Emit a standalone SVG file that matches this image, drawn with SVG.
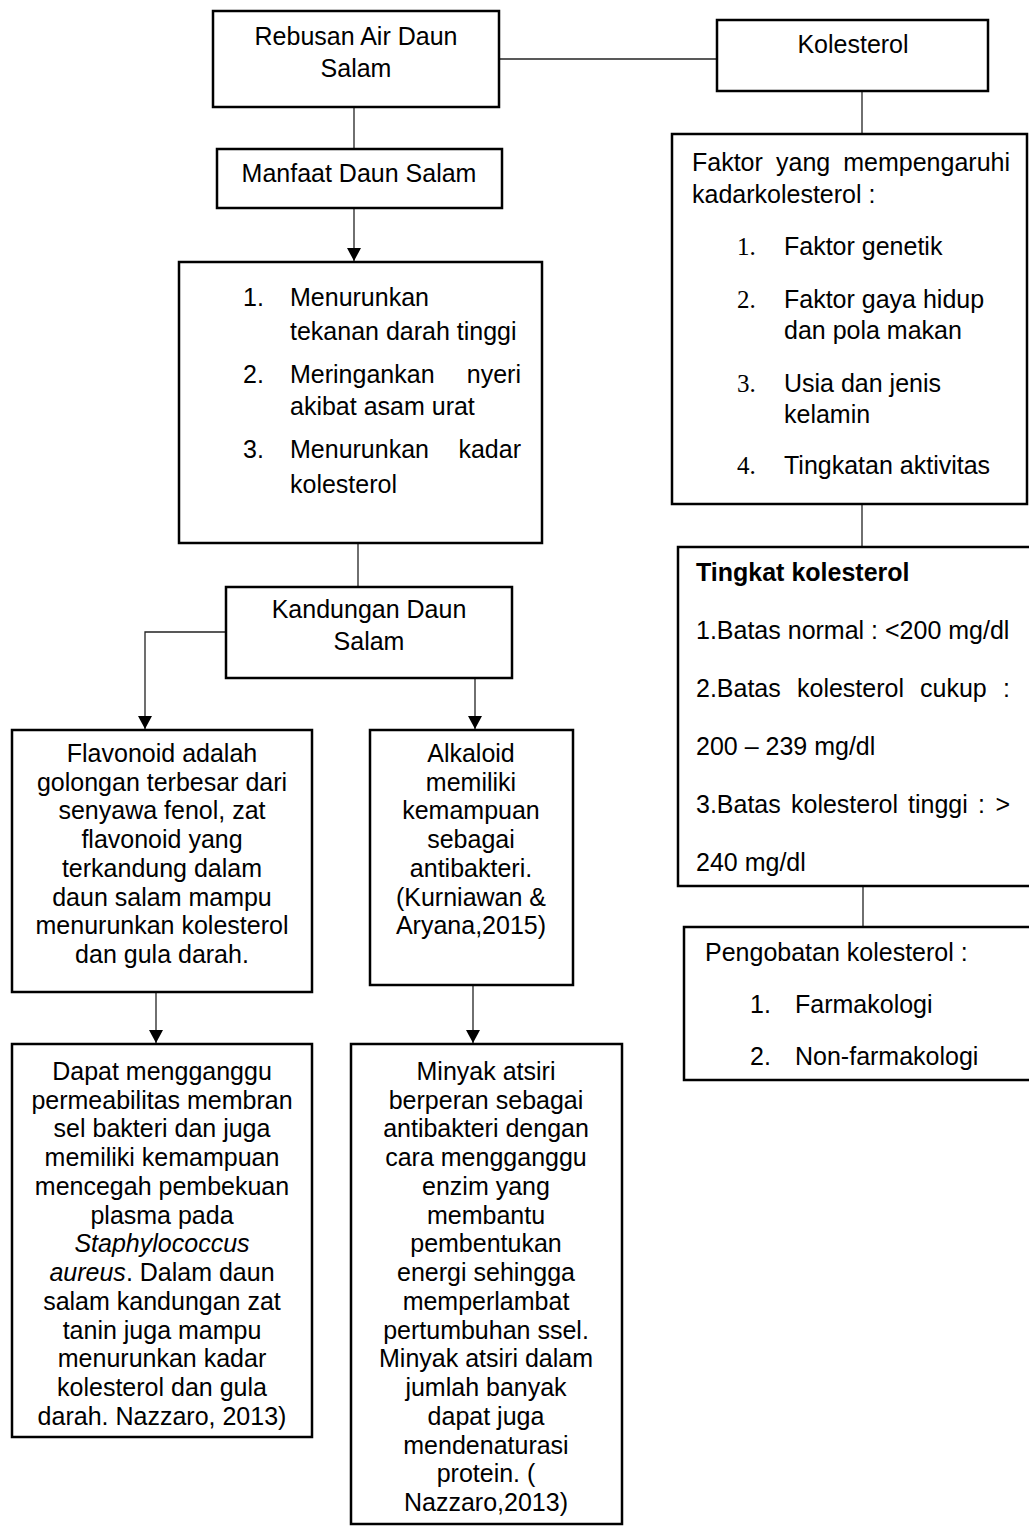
<svg xmlns="http://www.w3.org/2000/svg" width="1029" height="1527" viewBox="0 0 1029 1527">
<style>
.box{fill:#fff;stroke:#000;stroke-width:2.5}
.con{fill:none;stroke:#222;stroke-width:1.3}
text{font-family:"Liberation Sans",Arial,sans-serif;font-size:25px;fill:#000}
.c{text-anchor:middle}
.e{text-anchor:end}
.serif{font-family:"Liberation Serif","Times New Roman",serif}
.b{font-weight:bold}
.i{font-style:italic}
</style>
<defs>
<marker id="arr" markerUnits="userSpaceOnUse" markerWidth="14" markerHeight="14" refX="13" refY="7" orient="auto">
<path d="M0,0 L13,7 L0,14 z" fill="#000"/>
</marker>
</defs>
<g id="connectors">
<line class="con" x1="499" y1="59" x2="717" y2="59"/>
<line class="con" x1="354" y1="107" x2="354" y2="149"/>
<line class="con" x1="354" y1="208" x2="354" y2="261" marker-end="url(#arr)"/>
<line class="con" x1="862" y1="91" x2="862" y2="134"/>
<line class="con" x1="358" y1="543" x2="358" y2="587"/>
<polyline class="con" points="226,632 145,632 145,729" marker-end="url(#arr)"/>
<line class="con" x1="475" y1="678" x2="475" y2="729" marker-end="url(#arr)"/>
<line class="con" x1="156" y1="992" x2="156" y2="1043" marker-end="url(#arr)"/>
<line class="con" x1="473" y1="985" x2="473" y2="1043" marker-end="url(#arr)"/>
<line class="con" x1="862" y1="504" x2="862" y2="547"/>
<line class="con" x1="863" y1="886" x2="863" y2="927"/>
</g>
<g id="rebusan">
<rect class="box" x="213" y="11" width="286" height="96"/>
<text class="c" x="356" y="45">Rebusan Air Daun</text>
<text class="c" x="356" y="77">Salam</text>
</g>
<g id="kolesterol">
<rect class="box" x="717" y="20" width="271" height="71"/>
<text class="c" x="853" y="53">Kolesterol</text>
</g>
<g id="manfaat">
<rect class="box" x="217" y="149" width="285" height="59"/>
<text class="c" x="359" y="182">Manfaat Daun Salam</text>
</g>
<g id="manfaat-list">
<rect class="box" x="179" y="262" width="363" height="281"/>
<text x="243" y="306">1.</text><text x="290" y="306">Menurunkan</text>
<text x="290" y="340">tekanan darah tinggi</text>
<text x="243" y="383">2.</text><text x="290" y="383">Meringankan</text><text class="e" x="521" y="383">nyeri</text>
<text x="290" y="415">akibat asam urat</text>
<text x="243" y="458">3.</text><text x="290" y="458">Menurunkan</text><text class="e" x="521" y="458">kadar</text>
<text x="290" y="493">kolesterol</text>
</g>
<g id="faktor">
<rect class="box" x="672" y="134" width="355" height="370"/>
<text x="692" y="171">Faktor</text><text x="776" y="171">yang</text><text class="e" x="1010" y="171">mempengaruhi</text>
<text x="692" y="203">kadarkolesterol :</text>
<text class="serif" x="737" y="255">1.</text><text x="784" y="255">Faktor genetik</text>
<text class="serif" x="737" y="308">2.</text><text x="784" y="308">Faktor gaya hidup</text>
<text x="784" y="339">dan pola makan</text>
<text class="serif" x="737" y="392">3.</text><text x="784" y="392">Usia dan jenis</text>
<text x="784" y="423">kelamin</text>
<text class="serif" x="737" y="474">4.</text><text x="784" y="474">Tingkatan aktivitas</text>
</g>
<g id="tingkat">
<rect class="box" x="678" y="547" width="370" height="339"/>
<text class="b" x="696" y="581">Tingkat kolesterol</text>
<text x="696" y="639">1.Batas normal : &lt;200 mg/dl</text>
<text x="696" y="697">2.Batas</text><text x="797" y="697">kolesterol</text><text x="920" y="697">cukup</text><text class="e" x="1010" y="697">:</text>
<text x="696" y="755">200 – 239 mg/dl</text>
<text x="696" y="813">3.Batas</text><text x="791" y="813">kolesterol</text><text x="908" y="813">tinggi</text><text x="978" y="813">:</text><text class="e" x="1010" y="813">&gt;</text>
<text x="696" y="871">240 mg/dl</text>
</g>
<g id="pengobatan">
<rect class="box" x="684" y="927" width="370" height="153"/>
<text x="705" y="961">Pengobatan kolesterol :</text>
<text x="750" y="1013">1.</text><text x="795" y="1013">Farmakologi</text>
<text x="750" y="1065">2.</text><text x="795" y="1065">Non-farmakologi</text>
</g>
<g id="kandungan">
<rect class="box" x="226" y="587" width="286" height="91"/>
<text class="c" x="369" y="618">Kandungan Daun</text>
<text class="c" x="369" y="650">Salam</text>
</g>
<g id="flavonoid">
<rect class="box" x="12" y="730" width="300" height="262"/>
<text class="c" x="162" y="762">Flavonoid adalah</text>
<text class="c" x="162" y="791">golongan terbesar dari</text>
<text class="c" x="162" y="819">senyawa fenol, zat</text>
<text class="c" x="162" y="848">flavonoid yang</text>
<text class="c" x="162" y="877">terkandung dalam</text>
<text class="c" x="162" y="906">daun salam mampu</text>
<text class="c" x="162" y="934">menurunkan kolesterol</text>
<text class="c" x="162" y="963">dan gula darah.</text>
</g>
<g id="alkaloid">
<rect class="box" x="370" y="730" width="203" height="255"/>
<text class="c" x="471" y="762">Alkaloid</text>
<text class="c" x="471" y="791">memiliki</text>
<text class="c" x="471" y="819">kemampuan</text>
<text class="c" x="471" y="848">sebagai</text>
<text class="c" x="471" y="877">antibakteri.</text>
<text class="c" x="471" y="906">(Kurniawan &amp;</text>
<text class="c" x="471" y="934">Aryana,2015)</text>
</g>
<g id="dapat">
<rect class="box" x="12" y="1044" width="300" height="393"/>
<text class="c" x="162" y="1080">Dapat mengganggu</text>
<text class="c" x="162" y="1109">permeabilitas membran</text>
<text class="c" x="162" y="1137">sel bakteri dan juga</text>
<text class="c" x="162" y="1166">memiliki kemampuan</text>
<text class="c" x="162" y="1195">mencegah pembekuan</text>
<text class="c" x="162" y="1224">plasma pada</text>
<text class="c i" x="162" y="1252">Staphylococcus</text>
<text class="c" x="162" y="1281"><tspan class="i">aureus</tspan>. Dalam daun</text>
<text class="c" x="162" y="1310">salam kandungan zat</text>
<text class="c" x="162" y="1339">tanin juga mampu</text>
<text class="c" x="162" y="1367">menurunkan kadar</text>
<text class="c" x="162" y="1396">kolesterol dan gula</text>
<text class="c" x="162" y="1425">darah. Nazzaro, 2013)</text>
</g>
<g id="minyak">
<rect class="box" x="351" y="1044" width="271" height="480"/>
<text class="c" x="486" y="1080">Minyak atsiri</text>
<text class="c" x="486" y="1109">berperan sebagai</text>
<text class="c" x="486" y="1137">antibakteri dengan</text>
<text class="c" x="486" y="1166">cara mengganggu</text>
<text class="c" x="486" y="1195">enzim yang</text>
<text class="c" x="486" y="1224">membantu</text>
<text class="c" x="486" y="1252">pembentukan</text>
<text class="c" x="486" y="1281">energi sehingga</text>
<text class="c" x="486" y="1310">memperlambat</text>
<text class="c" x="486" y="1339">pertumbuhan ssel.</text>
<text class="c" x="486" y="1367">Minyak atsiri dalam</text>
<text class="c" x="486" y="1396">jumlah banyak</text>
<text class="c" x="486" y="1425">dapat juga</text>
<text class="c" x="486" y="1454">mendenaturasi</text>
<text class="c" x="486" y="1482">protein. (</text>
<text class="c" x="486" y="1511">Nazzaro,2013)</text>
</g>
</svg>
